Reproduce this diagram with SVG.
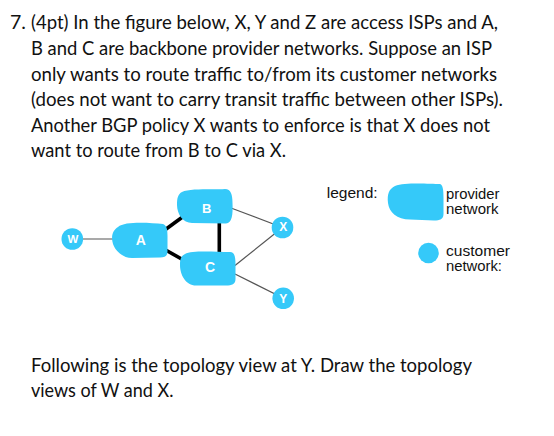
<svg xmlns="http://www.w3.org/2000/svg" width="554" height="436" viewBox="0 0 554 436">
<style>
.q{font-family:Lato,"Open Sans","Noto Sans",sans-serif;font-size:19.5px;fill:#111}
.lg{font-family:"Liberation Sans",Arial,sans-serif;font-size:14px;fill:#111}
.blob{fill:#35c9f9}
.nl{font-family:"Liberation Sans",Arial,sans-serif;font-weight:bold;fill:#fff;text-anchor:middle}
.thin{stroke:#555;stroke-width:1.2;fill:none}
.thick{stroke:#000;stroke-width:3.6;fill:none}
</style>
<rect width="554" height="436" fill="#fff"/>
<g id="question">
<text class="q" x="10" y="29.3">7.</text>
<text class="q" x="31" y="29.3" textLength="467" lengthAdjust="spacingAndGlyphs">(4pt) In the figure below, X, Y and Z are access ISPs and A,</text>
<text class="q" x="31" y="54.9" textLength="461" lengthAdjust="spacingAndGlyphs">B and C are backbone provider networks. Suppose an ISP</text>
<text class="q" x="31" y="80.5" textLength="466" lengthAdjust="spacingAndGlyphs">only wants to route traffic to/from its customer networks</text>
<text class="q" x="31" y="106.1" textLength="472" lengthAdjust="spacingAndGlyphs">(does not want to carry transit traffic between other ISPs).</text>
<text class="q" x="31" y="131.7" textLength="459" lengthAdjust="spacingAndGlyphs">Another BGP policy X wants to enforce is that X does not</text>
<text class="q" x="31" y="157.3" textLength="255" lengthAdjust="spacingAndGlyphs">want to route from B to C via X.</text>
<text class="q" x="31" y="372" textLength="441" lengthAdjust="spacingAndGlyphs">Following is the topology view at Y. Draw the topology</text>
<text class="q" x="31" y="397" textLength="142.5" lengthAdjust="spacingAndGlyphs">views of W and X.</text>
</g>
<g id="connectors">
<line class="thin" x1="72" y1="239" x2="115" y2="239" stroke="#777"/>
<line class="thin" x1="231" y1="208" x2="282.5" y2="227.5"/>
<line class="thin" x1="235" y1="265.5" x2="282.5" y2="227.5"/>
<line class="thin" x1="235" y1="274" x2="283" y2="298"/>
<line class="thick" x1="162" y1="232" x2="186" y2="214.5"/>
<line class="thick" x1="163" y1="248.5" x2="186" y2="261.5"/>
<line class="thick" x1="219.3" y1="220" x2="219.3" y2="254"/>
</g>
<g id="node-A">
<path class="blob" d="M118,227 C125,221 150,223 163,224 C168,226 167.5,232 167.5,240 L167.5,251 C167.5,256 165,257.5 160,257.5 L132,258 C122,258 115,250 113,244 C111,237 112,231 118,227 Z"/>
<text class="nl" x="140.7" y="245" font-size="14">A</text>
</g>
<g id="node-B">
<path class="blob" d="M182,192 C190,188 215,190 225,189 C231,189 232.5,195 232.5,203 C233,215 232,223 226,223.5 L192,223 C183,223 177,214 177,205 C177,198 178,194 182,192 Z"/>
<text class="nl" x="206.7" y="212.7" font-size="13">B</text>
</g>
<g id="node-C">
<path class="blob" d="M185,254 C192,250 215,252 230,252 C235,252 235.5,258 235.5,265 L235.5,279 C235.5,284 232,285.5 226,285.5 L196,285.5 C186,285.5 180,275 180,265 C180,259 181,256 185,254 Z"/>
<text class="nl" x="210" y="272" font-size="14">C</text>
</g>
<g id="node-W">
<circle class="blob" cx="72.3" cy="239" r="10.8"/>
<text class="nl" x="73" y="243.3" font-size="11.5">W</text>
</g>
<g id="node-X">
<circle class="blob" cx="282.5" cy="227.5" r="10.8"/>
<text class="nl" x="283.3" y="231.2" font-size="12">X</text>
</g>
<g id="node-Y">
<circle class="blob" cx="283.2" cy="298.3" r="10.8"/>
<text class="nl" x="283.3" y="302.6" font-size="12">Y</text>
</g>
<g id="legend">
<text class="lg" x="326.7" y="198.3" textLength="51" lengthAdjust="spacingAndGlyphs">legend:</text>
<path class="blob" d="M395,186 C405,182 430,184 440,184 C443,185 443.5,190 443.5,198 L443.5,214 C443.5,219 440,220.5 434,220.5 L410,219.5 C397,219.5 389,212 388,203 C387,194 389,189 395,186 Z"/>
<text class="lg" x="446" y="199" textLength="53.5" lengthAdjust="spacingAndGlyphs">provider</text>
<text class="lg" x="446" y="214" textLength="52.5" lengthAdjust="spacingAndGlyphs">network</text>
<circle class="blob" cx="428.5" cy="253" r="10.3"/>
<text class="lg" x="446" y="255.5" textLength="64" lengthAdjust="spacingAndGlyphs">customer</text>
<text class="lg" x="446" y="270.5" textLength="56" lengthAdjust="spacingAndGlyphs">network:</text>
</g>
</svg>
